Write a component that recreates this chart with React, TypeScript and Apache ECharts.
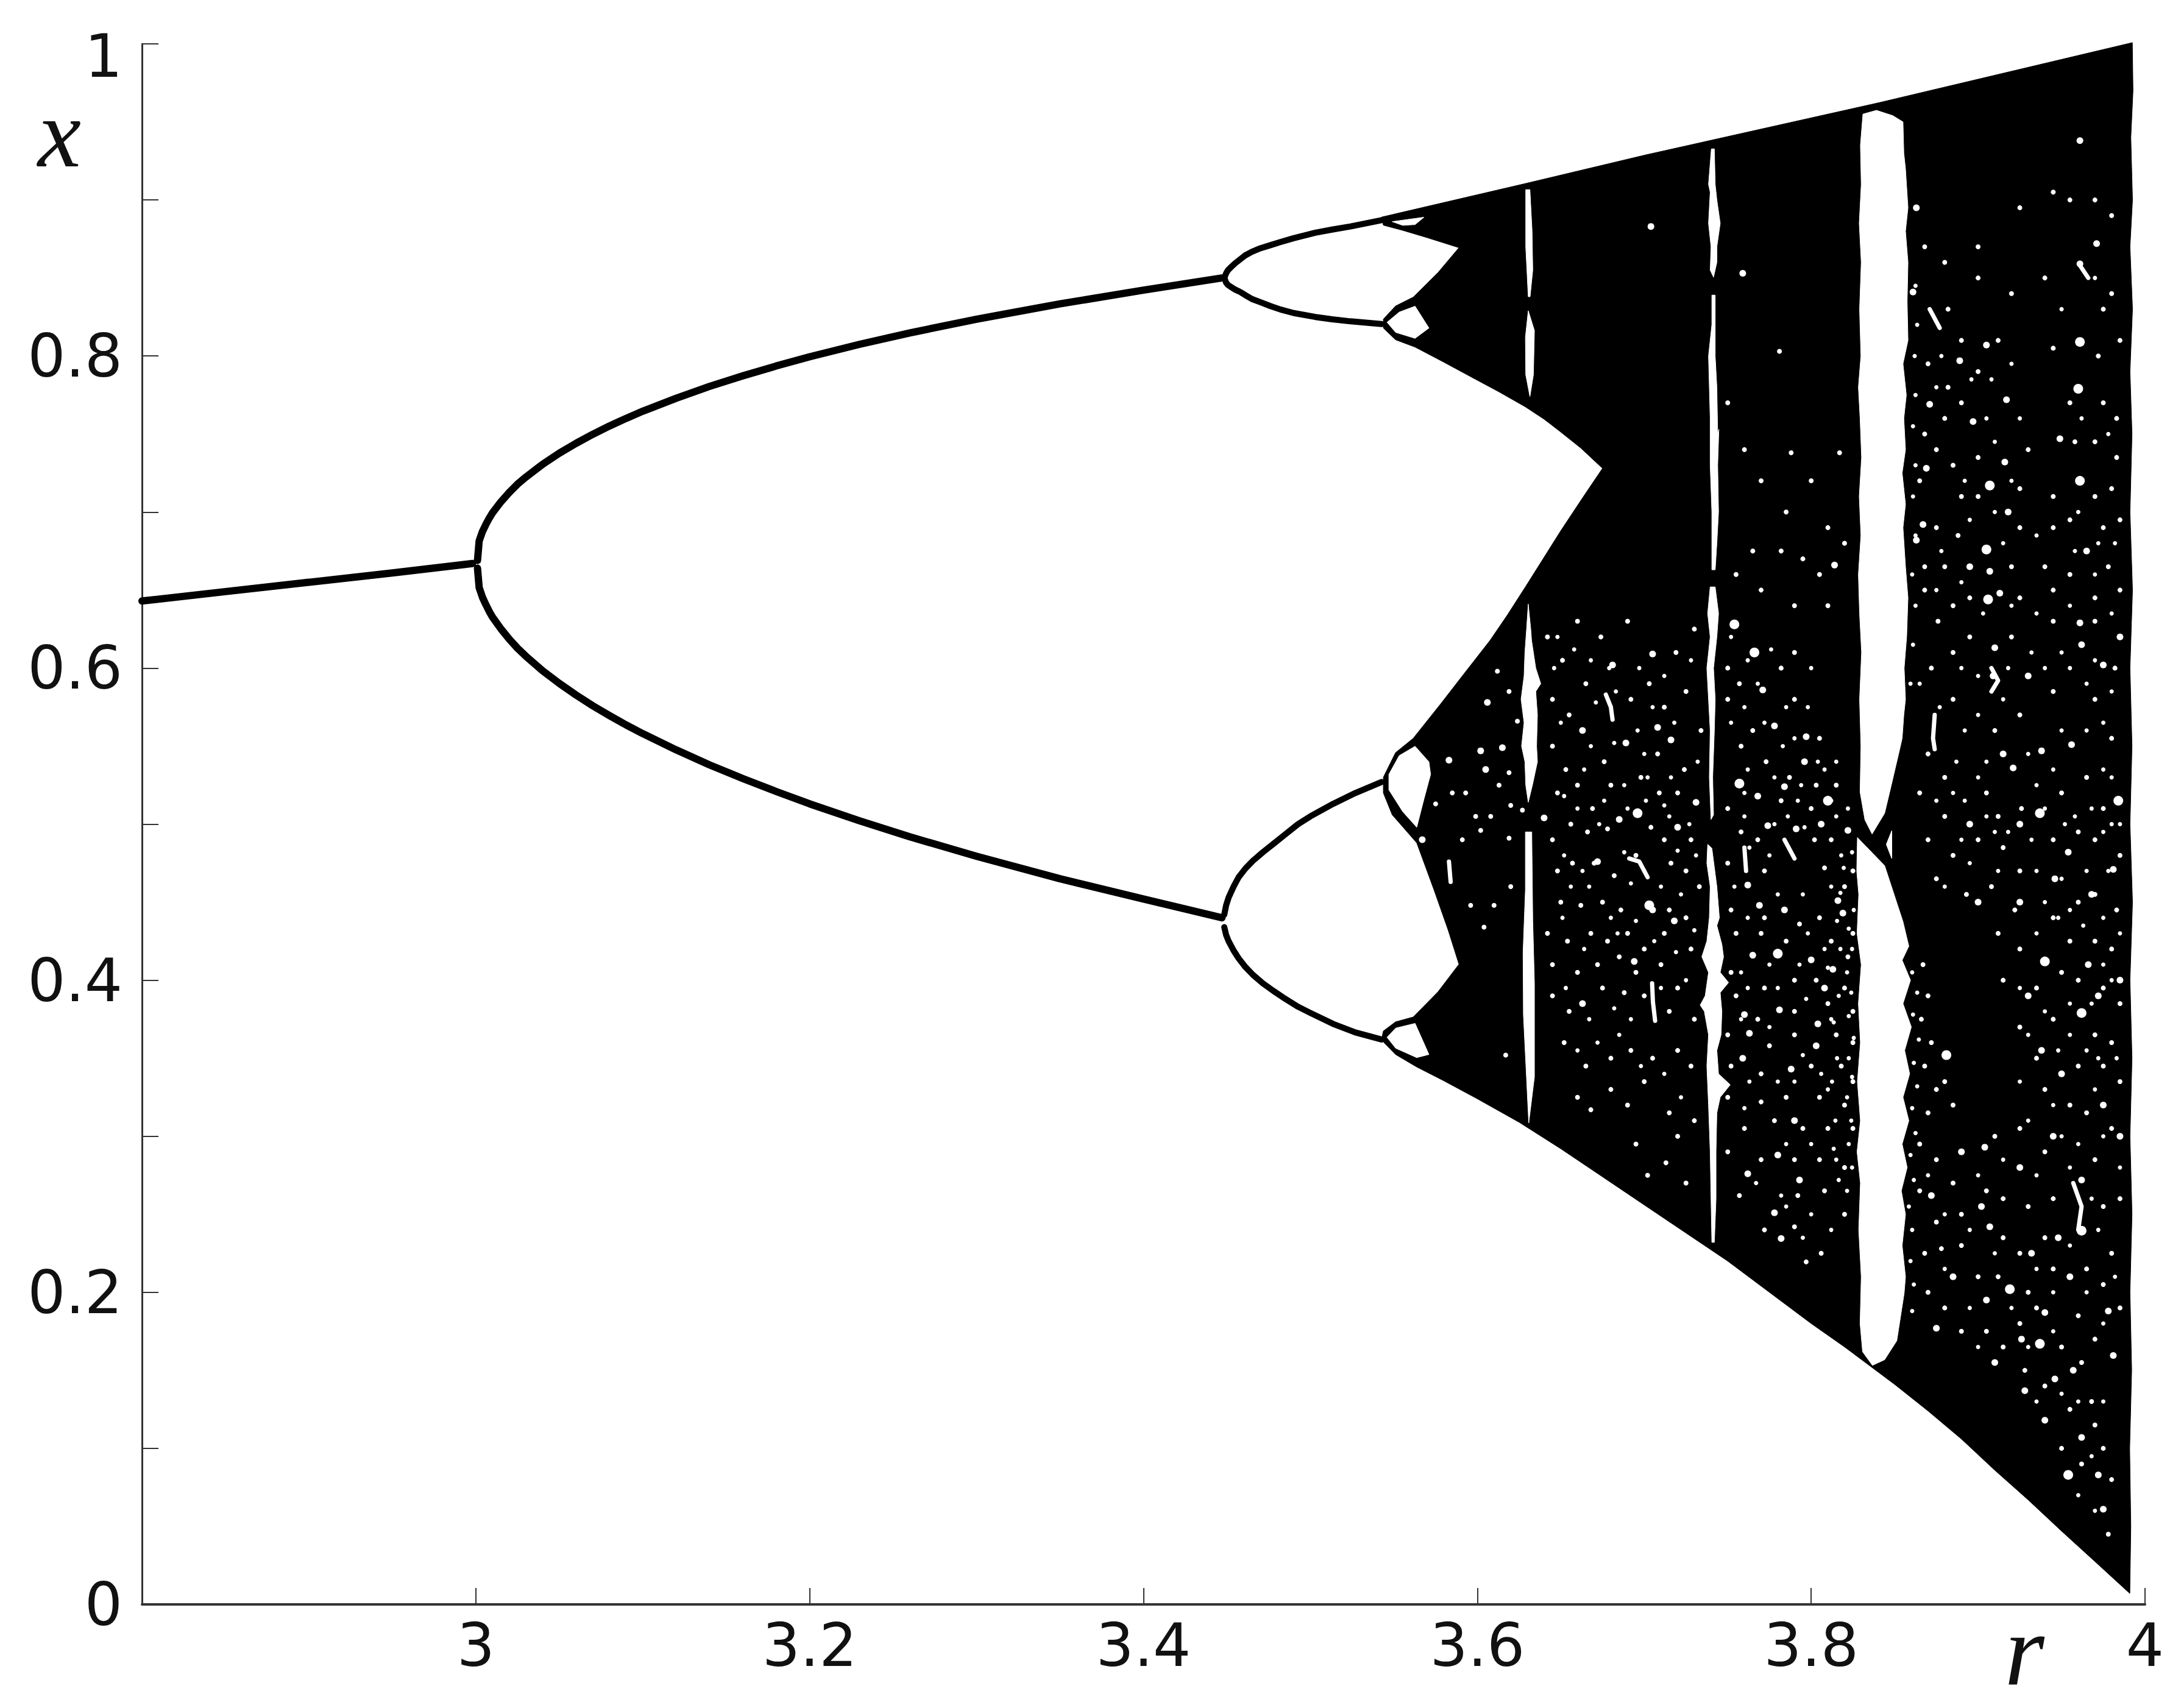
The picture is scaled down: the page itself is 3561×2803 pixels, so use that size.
import React, { useEffect, useRef } from "react";
import * as echarts from "echarts";

type P = [number, number];

const rTicks = [2.8, 3, 3.2, 3.4, 3.6, 3.8, 4];

const fixedPoint: P[] = [[2.8, 0.643], [2.85, 0.649], [2.9, 0.655], [2.95, 0.661], [2.998, 0.667]];
const upperFork: P[] = [[3.001, 0.669], [3.002, 0.6815], [3.004, 0.6876], [3.006, 0.692], [3.008, 0.696], [3.01, 0.6995], [3.015, 0.7065], [3.02, 0.7125], [3.025, 0.7179], [3.03, 0.7224], [3.04, 0.7306], [3.05, 0.7377], [3.06, 0.744], [3.07, 0.7498], [3.08, 0.7551], [3.09, 0.76], [3.1, 0.7646], [3.12, 0.7729], [3.14, 0.7805], [3.16, 0.7873], [3.18, 0.7936], [3.2, 0.7995], [3.23, 0.8075], [3.26, 0.8148], [3.3, 0.8236], [3.35, 0.8334], [3.4, 0.8422], [3.447, 0.85]];
const lowerFork: P[] = [[3.001, 0.664], [3.002, 0.6516], [3.004, 0.6453], [3.006, 0.6407], [3.008, 0.6364], [3.01, 0.6327], [3.015, 0.6252], [3.02, 0.6186], [3.025, 0.6127], [3.03, 0.6076], [3.04, 0.5983], [3.05, 0.5902], [3.06, 0.5828], [3.07, 0.5759], [3.08, 0.5696], [3.09, 0.5636], [3.1, 0.558], [3.12, 0.5476], [3.14, 0.538], [3.16, 0.5292], [3.18, 0.5209], [3.2, 0.513], [3.23, 0.5021], [3.26, 0.4919], [3.3, 0.4794], [3.35, 0.465], [3.4, 0.452], [3.447, 0.44]];
const branchA: P[] = [[3.4484, 0.85], [3.4495, 0.853], [3.4506, 0.855], [3.453, 0.8575], [3.455, 0.8595], [3.458, 0.862], [3.461, 0.8645], [3.465, 0.8668], [3.47, 0.869], [3.476, 0.871], [3.482, 0.873], [3.49, 0.8755], [3.503, 0.879], [3.513, 0.881], [3.524, 0.883], [3.5426, 0.887]];
const branchB: P[] = [[3.4484, 0.85], [3.4495, 0.847], [3.4506, 0.8455], [3.453, 0.8438], [3.455, 0.8425], [3.458, 0.841], [3.461, 0.839], [3.465, 0.8365], [3.47, 0.8345], [3.476, 0.832], [3.482, 0.8298], [3.49, 0.8275], [3.503, 0.825], [3.513, 0.8235], [3.524, 0.8222], [3.5426, 0.8205]];
const branchC: P[] = [[3.4484, 0.442], [3.4495, 0.448], [3.451, 0.453], [3.454, 0.46], [3.457, 0.466], [3.461, 0.4715], [3.4655, 0.4765], [3.4715, 0.482], [3.478, 0.4875], [3.485, 0.4935], [3.4926, 0.5], [3.5, 0.505], [3.5136, 0.513], [3.527, 0.52], [3.5426, 0.527]];
const branchD: P[] = [[3.4484, 0.434], [3.4495, 0.429], [3.451, 0.425], [3.454, 0.419], [3.457, 0.414], [3.461, 0.4085], [3.4655, 0.4035], [3.4715, 0.398], [3.478, 0.393], [3.485, 0.388], [3.4926, 0.383], [3.5, 0.379], [3.5136, 0.372], [3.527, 0.3665], [3.5426, 0.362]];

const chaosBand: P[] = [
  [3.5426, 0.889], [3.6288, 0.9105], [3.7007, 0.9288], [3.841, 0.9624], [3.9924, 1.0008],
  [3.9928, 0.97], [3.9915, 0.94], [3.9925, 0.9], [3.991, 0.87], [3.9925, 0.83], [3.991, 0.79], [3.9922, 0.75], [3.991, 0.7], [3.9925, 0.65], [3.991, 0.6], [3.9922, 0.55], [3.991, 0.5], [3.9925, 0.45], [3.991, 0.4], [3.9922, 0.35], [3.991, 0.3], [3.9922, 0.25], [3.991, 0.2], [3.992, 0.15], [3.9908, 0.1], [3.9915, 0.05],
  [3.9909, 0.007], [3.97, 0.0275], [3.95, 0.047], [3.93, 0.067], [3.91, 0.086], [3.89, 0.106], [3.87, 0.124], [3.85, 0.141], [3.82, 0.165], [3.8, 0.18], [3.775, 0.2], [3.75, 0.22], [3.725, 0.238], [3.7, 0.256], [3.675, 0.274], [3.65, 0.292], [3.625, 0.309], [3.6, 0.324], [3.58, 0.3355], [3.5637, 0.3444], [3.551, 0.3524], [3.5437, 0.3604], [3.5426, 0.362],
  [3.5437, 0.3674], [3.551, 0.3733], [3.5616, 0.3764], [3.5764, 0.3925], [3.589, 0.4102], [3.5825, 0.4322], [3.574, 0.458], [3.5637, 0.488], [3.549, 0.506], [3.5437, 0.52], [3.5437, 0.53], [3.551, 0.5458], [3.5616, 0.555],
  [3.578, 0.577], [3.593, 0.5977], [3.6076, 0.6177], [3.618, 0.634], [3.6288, 0.652], [3.64, 0.671], [3.65, 0.688], [3.663, 0.709], [3.675, 0.728],
  [3.662, 0.741], [3.6497, 0.7515], [3.64, 0.7595], [3.6288, 0.7674], [3.613, 0.777], [3.5973, 0.786], [3.58, 0.796], [3.5627, 0.8057], [3.551, 0.8104], [3.5437, 0.8179], [3.5437, 0.8236], [3.551, 0.832], [3.5616, 0.8377], [3.5764, 0.8534], [3.589, 0.8694], [3.57, 0.8758], [3.5553, 0.8805], [3.5437, 0.8838],
];

const holeA: P[] = [[3.549, 0.8861], [3.568, 0.8889], [3.5627, 0.8842], [3.5553, 0.8837]];
const holeB: P[] = [[3.5627, 0.8319], [3.571, 0.8179], [3.5627, 0.8113], [3.5511, 0.8151], [3.5459, 0.8216], [3.5532, 0.8281]];
const holeC: P[] = [[3.5627, 0.5499], [3.571, 0.5399], [3.572, 0.5319], [3.568, 0.516], [3.5637, 0.498], [3.5553, 0.508], [3.547, 0.522], [3.547, 0.5319], [3.5532, 0.5439]];
const holeD: P[] = [[3.5627, 0.3723], [3.571, 0.3524], [3.5637, 0.3504], [3.5511, 0.3564], [3.5459, 0.3634], [3.5511, 0.3693]];

const window363a: P[] = [[3.629, 0.9066], [3.6315, 0.9066], [3.6328, 0.88], [3.6332, 0.855], [3.6316, 0.838], [3.6305, 0.838], [3.629, 0.87]];
const window363b: P[] = [[3.6305, 0.829], [3.6342, 0.8163], [3.6336, 0.788], [3.6315, 0.774], [3.629, 0.788], [3.6288, 0.812]];
const window363c: P[] = [[3.6305, 0.641], [3.632, 0.625], [3.6325, 0.6177], [3.635, 0.6], [3.638, 0.59], [3.635, 0.585], [3.636, 0.57], [3.6355, 0.55], [3.636, 0.54], [3.633, 0.525], [3.6305, 0.514], [3.629, 0.525], [3.6285, 0.54], [3.6265, 0.55], [3.628, 0.565], [3.6262, 0.58], [3.628, 0.595], [3.6285, 0.61], [3.6295, 0.625]];
const window363d: P[] = [[3.6288, 0.495], [3.6326, 0.495], [3.6332, 0.438], [3.6342, 0.398], [3.6342, 0.338], [3.6308, 0.3085], [3.6276, 0.378], [3.6274, 0.418], [3.6288, 0.458]];

const window374a: P[] = [[3.7402, 0.9327], [3.742, 0.9327], [3.7425, 0.91], [3.7435, 0.9], [3.7455, 0.885], [3.7435, 0.87], [3.7435, 0.86], [3.7415, 0.8505], [3.7395, 0.855], [3.74, 0.87], [3.7385, 0.885], [3.7395, 0.905], [3.7385, 0.91]];
const window374b: P[] = [[3.7405, 0.839], [3.7425, 0.839], [3.7425, 0.8], [3.7435, 0.78], [3.744, 0.75], [3.7447, 0.753], [3.744, 0.73], [3.7445, 0.7], [3.7435, 0.68], [3.7425, 0.663], [3.7405, 0.663], [3.7405, 0.7], [3.7395, 0.73], [3.7395, 0.76], [3.7385, 0.8], [3.7405, 0.82]];
const window374c: P[] = [[3.7395, 0.652], [3.7425, 0.652], [3.7445, 0.635], [3.7435, 0.62], [3.7415, 0.6], [3.7425, 0.58], [3.742, 0.56], [3.741, 0.53], [3.7415, 0.506], [3.74, 0.503], [3.739, 0.53], [3.7395, 0.56], [3.7375, 0.6], [3.7395, 0.62], [3.738, 0.635]];
const window374d: P[] = [[3.738, 0.487], [3.7405, 0.4846], [3.7435, 0.46], [3.745, 0.44], [3.7435, 0.435], [3.7465, 0.423], [3.7475, 0.415], [3.7455, 0.405], [3.7505, 0.3985], [3.7455, 0.392], [3.7465, 0.38], [3.746, 0.365], [3.7435, 0.355], [3.7445, 0.34], [3.7515, 0.333], [3.7455, 0.325], [3.7435, 0.315], [3.743, 0.29], [3.743, 0.26], [3.742, 0.232], [3.7405, 0.232], [3.74, 0.26], [3.7395, 0.29], [3.7385, 0.32], [3.7375, 0.345], [3.7385, 0.365], [3.736, 0.38], [3.7335, 0.384], [3.7365, 0.39], [3.7385, 0.405], [3.7345, 0.415], [3.7375, 0.425], [3.739, 0.44], [3.7395, 0.46], [3.7375, 0.475]];

const window384a: P[] = [[3.831, 0.955], [3.8391, 0.9574], [3.8489, 0.954], [3.855, 0.95], [3.8555, 0.93], [3.8565, 0.92], [3.858, 0.895], [3.8565, 0.88], [3.858, 0.86], [3.8575, 0.835], [3.858, 0.81], [3.855, 0.795], [3.857, 0.775], [3.8555, 0.76], [3.8565, 0.74], [3.8545, 0.725], [3.8565, 0.705], [3.855, 0.69], [3.8565, 0.665], [3.858, 0.645], [3.8572, 0.62], [3.8557, 0.6], [3.8565, 0.58], [3.8555, 0.57], [3.8545, 0.555], [3.8528, 0.547], [3.848, 0.525], [3.844, 0.507], [3.8365, 0.4937], [3.8322, 0.5027], [3.8293, 0.5205], [3.8298, 0.55], [3.829, 0.58], [3.8302, 0.61], [3.829, 0.635], [3.8283, 0.66], [3.8298, 0.685], [3.8288, 0.71], [3.8302, 0.735], [3.8293, 0.76], [3.8283, 0.78], [3.8298, 0.8], [3.829, 0.83], [3.83, 0.86], [3.8288, 0.885], [3.83, 0.91], [3.8295, 0.935]];
const window384b: P[] = [[3.845, 0.487], [3.8483, 0.4958], [3.8483, 0.478]];
const window384c: P[] = [[3.8277, 0.4914], [3.844, 0.4734], [3.855, 0.4375], [3.8585, 0.4218], [3.8545, 0.4128], [3.8595, 0.4], [3.855, 0.385], [3.86, 0.37], [3.856, 0.355], [3.859, 0.34], [3.855, 0.325], [3.8585, 0.31], [3.8545, 0.295], [3.8575, 0.28], [3.854, 0.265], [3.8565, 0.25], [3.8545, 0.23], [3.8565, 0.21], [3.8557, 0.1994], [3.8513, 0.169], [3.844, 0.1568], [3.8367, 0.1532], [3.8308, 0.1619], [3.8293, 0.18], [3.83, 0.21], [3.8285, 0.24], [3.8295, 0.27], [3.8275, 0.29], [3.8295, 0.31], [3.8277, 0.335], [3.8295, 0.36], [3.8283, 0.385], [3.83, 0.41], [3.8275, 0.43], [3.8285, 0.455], [3.8273, 0.47]];

const streakPaths: P[][] = [
  [[3.677, 0.583], [3.68, 0.575], [3.681, 0.567]],
  [[3.7047, 0.398], [3.7052, 0.386], [3.7065, 0.374]],
  [[3.583, 0.476], [3.584, 0.463]],
  [[3.691, 0.478], [3.697, 0.476], [3.702, 0.466]],
  [[3.874, 0.57], [3.873, 0.555], [3.874, 0.548]],
  [[3.76, 0.485], [3.761, 0.47]],
  [[3.784, 0.49], [3.79, 0.478]],
  [[3.871, 0.83], [3.877, 0.818]],
  [[3.961, 0.858], [3.966, 0.85]],
  [[3.908, 0.6], [3.912, 0.592], [3.908, 0.585]],
  [[3.957, 0.27], [3.962, 0.255], [3.96, 0.24]],
];

const speckLarge: P[] = [
  [3.696, 0.507], [3.703, 0.448], [3.74, 0.416], [3.78, 0.417], [3.757, 0.526], [3.961, 0.809], [3.96, 0.779], [3.94, 0.412], [3.937, 0.507], [3.937, 0.167], [3.962, 0.379], [3.919, 0.202], [3.962, 0.2395], [3.881, 0.352], [3.984, 0.515], [3.907, 0.717], [3.961, 0.72], [3.905, 0.676], [3.906, 0.644], [3.754, 0.628], [3.766, 0.61], [3.81, 0.515], [3.954, 0.083],
];

const speckMedium: P[] = [
  [3.606, 0.578], [3.583, 0.541], [3.602, 0.547], [3.615, 0.549], [3.605, 0.535], [3.567, 0.49], [3.681, 0.602], [3.705, 0.609], [3.663, 0.56], [3.689, 0.552], [3.716, 0.554], [3.731, 0.514], [3.64, 0.504], [3.685, 0.503], [3.72, 0.498], [3.771, 0.586], [3.778, 0.563], [3.797, 0.556], [3.796, 0.54], [3.768, 0.518], [3.774, 0.499], [3.791, 0.497], [3.822, 0.496], [3.705, 0.445], [3.762, 0.461], [3.816, 0.451], [3.784, 0.445], [3.819, 0.443], [3.8, 0.413], [3.813, 0.407], [3.765, 0.416], [3.76, 0.378], [3.804, 0.372], [3.781, 0.381], [3.763, 0.366], [3.803, 0.358], [3.759, 0.35], [3.788, 0.343], [3.91, 0.613], [3.909, 0.595], [3.962, 0.615], [3.975, 0.602], [3.938, 0.547], [3.956, 0.551], [3.921, 0.536], [3.954, 0.482], [3.981, 0.471], [3.93, 0.595], [3.93, 0.39], [3.78, 0.288], [3.762, 0.276], [3.778, 0.251], [3.782, 0.2345], [3.904, 0.293], [3.872, 0.262], [3.907, 0.242], [3.875, 0.177], [3.962, 0.272], [3.94, 0.187], [3.928, 0.137], [3.946, 0.1445], [3.94, 0.118], [3.962, 0.107], [3.972, 0.083], [3.975, 0.061], [3.981, 0.1595], [3.978, 0.188], [3.863, 0.895], [3.704, 0.883], [3.961, 0.938], [3.971, 0.872], [3.961, 0.859], [3.861, 0.841], [3.905, 0.807], [3.889, 0.797], [3.871, 0.769], [3.917, 0.772], [3.897, 0.758], [3.949, 0.747], [3.869, 0.728], [3.916, 0.732], [3.918, 0.7], [3.867, 0.692], [3.863, 0.682], [3.965, 0.675], [3.895, 0.665], [3.907, 0.662], [3.913, 0.648], [3.961, 0.629], [3.814, 0.666], [3.759, 0.853],
  [3.966, 0.41], [3.895, 0.5], [3.9, 0.45], [3.95, 0.34], [3.975, 0.32], [3.925, 0.28], [3.955, 0.21], [3.885, 0.21], [3.91, 0.155], [3.905, 0.195], [3.957, 0.15], [3.985, 0.3], [3.985, 0.4], [3.985, 0.62], [3.925, 0.45], [3.945, 0.3], [3.89, 0.29],
  [3.708, 0.562], [3.672, 0.476], [3.694, 0.412], [3.663, 0.385], [3.718, 0.438], [3.784, 0.524], [3.806, 0.5], [3.769, 0.448], [3.808, 0.395], [3.79, 0.31], [3.793, 0.272], [3.915, 0.545], [3.946, 0.465], [3.925, 0.5], [3.968, 0.455], [3.938, 0.355], [3.972, 0.39], [3.902, 0.255], [3.932, 0.225], [3.926, 0.17], [3.948, 0.235],
];

const speckSmall: P[] = [
  [3.001, 0.666], [3.612, 0.598], [3.619, 0.585], [3.624, 0.566], [3.596, 0.448], [3.608, 0.505], [3.619, 0.491], [3.602, 0.496], [3.585, 0.52], [3.627, 0.509], [3.61, 0.448], [3.62, 0.46], [3.593, 0.52], [3.599, 0.505], [3.575, 0.513], [3.591, 0.49], [3.613, 0.525], [3.566, 0.53], [3.619, 0.533], [3.62, 0.512], [3.617, 0.352], [3.604, 0.434],
  [3.642, 0.62], [3.651, 0.605], [3.66, 0.63], [3.674, 0.62], [3.69, 0.63], [3.703, 0.59], [3.719, 0.61], [3.73, 0.625], [3.645, 0.58], [3.655, 0.57], [3.665, 0.59], [3.692, 0.58], [3.712, 0.575], [3.725, 0.585], [3.645, 0.55], [3.653, 0.535], [3.676, 0.54], [3.698, 0.53], [3.708, 0.545], [3.724, 0.535], [3.734, 0.56], [3.648, 0.52], [3.66, 0.525], [3.669, 0.51], [3.68, 0.525], [3.709, 0.52], [3.72, 0.52], [3.645, 0.49], [3.656, 0.5], [3.666, 0.495], [3.678, 0.497], [3.704, 0.498], [3.712, 0.49], [3.728, 0.49], [3.648, 0.47], [3.657, 0.475], [3.67, 0.475], [3.682, 0.467], [3.695, 0.48], [3.716, 0.475], [3.725, 0.47], [3.733, 0.46], [3.65, 0.45], [3.662, 0.448], [3.675, 0.45], [3.686, 0.445], [3.715, 0.445], [3.725, 0.44], [3.642, 0.43], [3.654, 0.425], [3.668, 0.43], [3.678, 0.425], [3.69, 0.43], [3.7, 0.42], [3.712, 0.43], [3.728, 0.42], [3.645, 0.41], [3.66, 0.405], [3.672, 0.41], [3.685, 0.415], [3.695, 0.405], [3.71, 0.41], [3.72, 0.395], [3.645, 0.39], [3.655, 0.38], [3.675, 0.395], [3.688, 0.392], [3.7, 0.39], [3.715, 0.38], [3.73, 0.375], [3.652, 0.36], [3.665, 0.345], [3.68, 0.35], [3.692, 0.355], [3.705, 0.35], [3.72, 0.355], [3.728, 0.345], [3.66, 0.325], [3.68, 0.33], [3.69, 0.32], [3.7, 0.335], [3.715, 0.315], [3.73, 0.31], [3.668, 0.317], [3.695, 0.295], [3.713, 0.283], [3.702, 0.275], [3.72, 0.3], [3.725, 0.27],
  [3.75, 0.6], [3.757, 0.59], [3.765, 0.56], [3.782, 0.6], [3.79, 0.58], [3.758, 0.55], [3.773, 0.54], [3.787, 0.53], [3.803, 0.525], [3.75, 0.51], [3.782, 0.515], [3.8, 0.51], [3.815, 0.525], [3.758, 0.495], [3.768, 0.49], [3.802, 0.49], [3.812, 0.49], [3.825, 0.47], [3.75, 0.475], [3.772, 0.47], [3.808, 0.472], [3.82, 0.46], [3.752, 0.445], [3.772, 0.44], [3.793, 0.436], [3.805, 0.44], [3.825, 0.43], [3.755, 0.43], [3.77, 0.43], [3.785, 0.425], [3.812, 0.425], [3.822, 0.415], [3.752, 0.405], [3.772, 0.395], [3.79, 0.4], [3.803, 0.4], [3.82, 0.395], [3.755, 0.39], [3.768, 0.375], [3.79, 0.38], [3.81, 0.385], [3.825, 0.38], [3.75, 0.365], [3.775, 0.358], [3.79, 0.365], [3.815, 0.365], [3.825, 0.36], [3.752, 0.345], [3.77, 0.34], [3.8, 0.345], [3.818, 0.345], [3.825, 0.335], [3.75, 0.325], [3.77, 0.322], [3.785, 0.325], [3.805, 0.325], [3.82, 0.32], [3.76, 0.305], [3.778, 0.31], [3.795, 0.305], [3.81, 0.305], [3.825, 0.305], [3.75, 0.29], [3.77, 0.285], [3.79, 0.285], [3.805, 0.285], [3.82, 0.28], [3.757, 0.262], [3.792, 0.262], [3.808, 0.265], [3.82, 0.25], [3.797, 0.2195], [3.79, 0.242], [3.772, 0.24], [3.806, 0.225], [3.75, 0.58], [3.79, 0.61], [3.805, 0.555],
  [3.781, 0.803], [3.817, 0.738], [3.788, 0.738], [3.75, 0.77], [3.76, 0.74], [3.77, 0.72], [3.785, 0.7], [3.8, 0.72], [3.81, 0.69], [3.765, 0.675], [3.782, 0.675], [3.795, 0.67], [3.805, 0.66], [3.77, 0.65], [3.755, 0.66], [3.79, 0.64], [3.81, 0.64], [3.82, 0.68],
  [3.868, 0.65], [3.876, 0.63], [3.885, 0.61], [3.872, 0.6], [3.885, 0.58], [3.895, 0.62], [3.92, 0.62], [3.945, 0.63], [3.97, 0.63], [3.982, 0.6], [3.87, 0.545], [3.88, 0.53], [3.91, 0.56], [3.925, 0.57], [3.945, 0.585], [3.97, 0.58], [3.98, 0.555], [3.865, 0.52], [3.88, 0.505], [3.905, 0.52], [3.912, 0.505], [3.926, 0.51], [3.95, 0.52], [3.965, 0.53], [3.975, 0.51], [3.87, 0.49], [3.885, 0.48], [3.9, 0.49], [3.915, 0.485], [3.925, 0.47], [3.945, 0.49], [3.96, 0.495], [3.97, 0.49], [3.985, 0.48], [3.875, 0.465], [3.893, 0.455], [3.908, 0.46], [3.922, 0.445], [3.945, 0.44], [3.96, 0.45], [3.97, 0.455], [3.983, 0.445], [3.912, 0.43], [3.925, 0.42], [3.955, 0.425], [3.97, 0.425], [3.98, 0.42], [3.915, 0.4], [3.935, 0.395], [3.95, 0.405], [3.96, 0.4], [3.975, 0.395], [3.985, 0.385], [3.925, 0.37], [3.945, 0.375], [3.97, 0.365], [3.98, 0.36], [3.867, 0.41], [3.87, 0.39], [3.866, 0.375], [3.872, 0.36], [3.868, 0.345], [3.875, 0.33], [3.87, 0.315], [3.88, 0.335], [3.885, 0.32], [3.935, 0.35], [3.96, 0.345], [3.975, 0.345], [3.985, 0.335], [3.94, 0.33], [3.955, 0.32], [3.965, 0.315], [3.98, 0.305], [3.865, 0.295], [3.875, 0.285], [3.885, 0.27], [3.91, 0.3], [3.925, 0.305], [3.94, 0.29], [3.97, 0.285], [3.865, 0.265], [3.875, 0.245], [3.89, 0.25], [3.905, 0.265], [3.915, 0.26], [3.93, 0.255], [3.945, 0.26], [3.975, 0.255], [3.985, 0.26], [3.868, 0.225], [3.878, 0.228], [3.89, 0.23], [3.915, 0.235], [3.925, 0.225], [3.94, 0.235], [3.965, 0.215], [3.98, 0.225], [3.87, 0.2], [3.9, 0.21], [3.912, 0.21], [3.93, 0.2], [3.945, 0.215], [3.975, 0.205], [3.985, 0.19], [3.88, 0.19], [3.89, 0.175], [3.925, 0.18], [3.935, 0.19], [3.96, 0.185], [3.97, 0.17], [3.905, 0.175], [3.915, 0.165], [3.95, 0.165], [3.962, 0.155], [3.928, 0.15], [3.94, 0.14], [3.955, 0.125], [3.968, 0.13], [3.95, 0.1], [3.962, 0.09], [3.975, 0.1], [3.97, 0.115], [3.98, 0.08], [3.978, 0.045],
  [3.868, 0.87], [3.88, 0.86], [3.9, 0.87], [3.925, 0.895], [3.945, 0.905], [3.955, 0.9], [3.97, 0.9], [3.98, 0.89], [3.882, 0.83], [3.9, 0.85], [3.92, 0.84], [3.94, 0.85], [3.975, 0.83], [3.98, 0.84], [3.87, 0.795], [3.882, 0.78], [3.89, 0.81], [3.912, 0.81], [3.945, 0.805], [3.972, 0.8], [3.985, 0.81], [3.868, 0.75], [3.88, 0.76], [3.89, 0.77], [3.9, 0.79], [3.955, 0.77], [3.975, 0.77], [3.983, 0.76], [3.875, 0.74], [3.885, 0.73], [3.9, 0.735], [3.93, 0.74], [3.958, 0.745], [3.97, 0.745], [3.983, 0.735], [3.865, 0.72], [3.89, 0.71], [3.9, 0.71], [3.925, 0.715], [3.945, 0.71], [3.97, 0.71], [3.98, 0.715], [3.875, 0.69], [3.888, 0.685], [3.925, 0.69], [3.945, 0.69], [3.955, 0.695], [3.975, 0.69], [3.985, 0.695], [3.868, 0.665], [3.88, 0.665], [3.92, 0.665], [3.94, 0.665], [3.955, 0.66], [3.978, 0.665], [3.985, 0.65], [3.885, 0.64], [3.895, 0.645], [3.925, 0.645], [3.945, 0.65], [3.97, 0.645],
];

const speckEdges: P[] = [
  [3.8625, 0.845], [3.8635, 0.82], [3.862, 0.8], [3.8625, 0.775], [3.861, 0.755], [3.8625, 0.73], [3.861, 0.71], [3.8625, 0.685], [3.8605, 0.66], [3.8625, 0.64], [3.861, 0.615], [3.8595, 0.59], [3.8605, 0.405], [3.8635, 0.392], [3.861, 0.378], [3.8645, 0.362], [3.8615, 0.347], [3.8635, 0.332], [3.8605, 0.318], [3.8625, 0.302], [3.8595, 0.288], [3.8615, 0.272], [3.8585, 0.255], [3.8605, 0.24], [3.8595, 0.22], [3.8615, 0.205], [3.8605, 0.188],
  [3.8255, 0.445], [3.8225, 0.433], [3.8245, 0.42], [3.8215, 0.405], [3.824, 0.392], [3.8225, 0.377], [3.8255, 0.363], [3.8225, 0.35], [3.8245, 0.338], [3.8215, 0.325], [3.824, 0.31], [3.8225, 0.295], [3.8245, 0.28], [3.8215, 0.265], [3.8245, 0.482], [3.8195, 0.472], [3.8175, 0.456], [3.8155, 0.438], [3.8175, 0.42], [3.8165, 0.39], [3.8135, 0.373], [3.8155, 0.35], [3.8125, 0.335], [3.8145, 0.31], [3.8135, 0.292], [3.8165, 0.272],
  [3.648, 0.62], [3.668, 0.605], [3.683, 0.585], [3.697, 0.6], [3.712, 0.595], [3.652, 0.518], [3.664, 0.535], [3.673, 0.5], [3.69, 0.51], [3.701, 0.515], [3.715, 0.505], [3.727, 0.5], [3.656, 0.46], [3.667, 0.46], [3.68, 0.44], [3.692, 0.462], [3.7, 0.47], [3.71, 0.46], [3.722, 0.455], [3.651, 0.44], [3.664, 0.42], [3.684, 0.43], [3.695, 0.438], [3.706, 0.425], [3.719, 0.418], [3.73, 0.432], [3.653, 0.395], [3.667, 0.375], [3.682, 0.382], [3.692, 0.375], [3.71, 0.395], [3.725, 0.4], [3.66, 0.355], [3.672, 0.36], [3.685, 0.365], [3.698, 0.345], [3.712, 0.34], [3.722, 0.325],
  [3.76, 0.575], [3.772, 0.565], [3.785, 0.575], [3.798, 0.575], [3.808, 0.535], [3.762, 0.535], [3.778, 0.53], [3.792, 0.515], [3.76, 0.505], [3.778, 0.5], [3.796, 0.498], [3.815, 0.505], [3.754, 0.46], [3.775, 0.48], [3.795, 0.455], [3.812, 0.46], [3.762, 0.44], [3.78, 0.455], [3.798, 0.43], [3.808, 0.42], [3.758, 0.405], [3.775, 0.41], [3.793, 0.41], [3.81, 0.408], [3.762, 0.395], [3.78, 0.395], [3.797, 0.388], [3.812, 0.375], [3.758, 0.375], [3.775, 0.37], [3.795, 0.352], [3.806, 0.34], [3.763, 0.335], [3.78, 0.335], [3.79, 0.335], [3.81, 0.33], [3.76, 0.318], [3.785, 0.295], [3.8, 0.295], [3.815, 0.285], [3.767, 0.27], [3.782, 0.262], [3.8, 0.25], [3.812, 0.24], [3.785, 0.255], [3.795, 0.235],
  [3.875, 0.515], [3.887, 0.54], [3.9, 0.57], [3.915, 0.58], [3.932, 0.61], [3.955, 0.6], [3.97, 0.605], [3.98, 0.585], [3.892, 0.515], [3.905, 0.505], [3.918, 0.495], [3.94, 0.51], [3.958, 0.505], [3.975, 0.535], [3.98, 0.5], [3.88, 0.46], [3.895, 0.475], [3.912, 0.47], [3.935, 0.47], [3.95, 0.465], [3.965, 0.47], [3.978, 0.47], [3.935, 0.43], [3.948, 0.44], [3.963, 0.435], [3.975, 0.44], [3.925, 0.395], [3.955, 0.385], [3.968, 0.385], [3.98, 0.4], [3.93, 0.365], [3.955, 0.365], [3.972, 0.35], [3.948, 0.355], [3.925, 0.335], [3.945, 0.32], [3.97, 0.33], [3.93, 0.31], [3.95, 0.3], [3.96, 0.295], [3.975, 0.3], [3.985, 0.28], [3.87, 0.275], [3.88, 0.25], [3.9, 0.275], [3.915, 0.285], [3.935, 0.275], [3.955, 0.28], [3.968, 0.26], [3.88, 0.215], [3.895, 0.24], [3.91, 0.225], [3.935, 0.215], [3.955, 0.23], [3.972, 0.24], [3.895, 0.19], [3.92, 0.19], [3.945, 0.2], [3.965, 0.2], [3.982, 0.21], [3.9, 0.165], [3.93, 0.165], [3.945, 0.175], [3.975, 0.18], [3.935, 0.13], [3.95, 0.135], [3.96, 0.13], [3.975, 0.13], [3.96, 0.07], [3.97, 0.06], [3.968, 0.095],
  [3.878, 0.8], [3.896, 0.785], [3.908, 0.785], [3.92, 0.795], [3.95, 0.83], [3.97, 0.85], [3.875, 0.78], [3.905, 0.76], [3.91, 0.745], [3.925, 0.76], [3.962, 0.76], [3.978, 0.75], [3.892, 0.72], [3.91, 0.7], [3.92, 0.72], [3.96, 0.7], [3.972, 0.68], [3.982, 0.68], [3.878, 0.675], [3.895, 0.695], [3.915, 0.68], [3.935, 0.685], [3.958, 0.675], [3.97, 0.66], [3.875, 0.65], [3.89, 0.655], [3.903, 0.635], [3.92, 0.64], [3.935, 0.635], [3.955, 0.64], [3.98, 0.635],
  [3.646, 0.6], [3.658, 0.612], [3.671, 0.578], [3.679, 0.6], [3.696, 0.56], [3.705, 0.575], [3.718, 0.565], [3.728, 0.605], [3.65, 0.565], [3.668, 0.55], [3.682, 0.552], [3.7, 0.545], [3.716, 0.53], [3.732, 0.54], [3.66, 0.51], [3.676, 0.515], [3.688, 0.525], [3.702, 0.53], [3.712, 0.512], [3.731, 0.48], [3.652, 0.48], [3.663, 0.47], [3.688, 0.482], [3.72, 0.483],
  [3.752, 0.62], [3.762, 0.605], [3.776, 0.612], [3.768, 0.59], [3.8, 0.6], [3.752, 0.565], [3.783, 0.55], [3.79, 0.555], [3.804, 0.54], [3.815, 0.54], [3.76, 0.52], [3.794, 0.525], [3.812, 0.515], [3.822, 0.51], [3.786, 0.505], [3.818, 0.48], [3.763, 0.485],
  [3.865, 0.59], [3.877, 0.575], [3.89, 0.6], [3.9, 0.595], [3.918, 0.6], [3.94, 0.6], [3.95, 0.61], [3.965, 0.59], [3.975, 0.565], [3.892, 0.56], [3.905, 0.54], [3.93, 0.545], [3.95, 0.56], [3.965, 0.56], [3.98, 0.53], [3.885, 0.52], [3.9, 0.53], [3.935, 0.525], [3.945, 0.535], [3.968, 0.51], [3.985, 0.5], [3.89, 0.49], [3.91, 0.495], [3.932, 0.49], [3.952, 0.5], [3.975, 0.495], [3.94, 0.45], [3.955, 0.445], [3.975, 0.41], [3.985, 0.43], [3.94, 0.38], [3.965, 0.355], [3.983, 0.35],
];

const whiteShapes: P[][] = [holeA, holeB, holeC, holeD, window363a, window363b, window363c, window363d, window374a, window374b, window374c, window374d, window384a, window384b, window384c];

const SERIF = "'Liberation Serif', serif";
const SANS = "'DejaVu Sans', sans-serif";

function polygons(name: string, shapes: P[][], fill: string) {
  return {
    type: "custom" as const,
    name,
    silent: true,
    clip: false,
    data: shapes.map((_, i) => [i]),
    renderItem: (params: any, api: any) => ({
      type: "polygon",
      shape: { points: shapes[params.dataIndex].map((p) => api.coord(p)) },
      style: { fill, stroke: fill, lineWidth: 1 },
    }),
  };
}

function branch(data: P[], width: number) {
  return {
    type: "line" as const,
    data,
    showSymbol: false,
    symbol: "none",
    silent: true,
    lineStyle: { color: "#000", width, join: "round", cap: "round" },
  };
}

function specks(data: P[], size: number) {
  return {
    type: "scatter" as const,
    data,
    symbol: "circle",
    symbolSize: size,
    silent: true,
    itemStyle: { color: "#fff", opacity: 1 },
  };
}

export default function App() {
  const ref = useRef<HTMLDivElement>(null);
  useEffect(() => {
    document.body.style.margin = "0";
    const chart = echarts.init(ref.current!, undefined, { renderer: "svg" });
    chart.setOption({
      animation: false,
      backgroundColor: "#fff",
      grid: { left: 233, right: 41, top: 72, bottom: 170, containLabel: false },
      xAxis: {
        type: "value",
        min: rTicks[0],
        max: rTicks[rTicks.length - 1],
        interval: 0.2,
        splitLine: { show: false },
        name: "r",
        nameLocation: "end",
        nameGap: -165,
        nameMoveOverlap: false,
        nameTextStyle: { fontFamily: SERIF, fontStyle: "italic", fontSize: 168, lineHeight: 150, color: "#111", align: "right", verticalAlign: "top" },
        axisLine: { show: true, onZero: false, lineStyle: { color: "#333", width: 4 } },
        axisTick: { show: true, inside: true, length: 27, lineStyle: { color: "#333", width: 2 } },
        axisLabel: { fontFamily: SANS, fontSize: 98, color: "#111", margin: 18, showMinLabel: false, formatter: (v: number) => (v === rTicks[0] ? "" : String(Math.round(v * 10) / 10)) },
      },
      yAxis: {
        type: "value",
        min: 0,
        max: 1,
        interval: 0.1,
        splitLine: { show: false },
        name: "x",
        nameLocation: "end",
        nameGap: -147,
        nameMoveOverlap: false,
        nameTextStyle: { fontFamily: SERIF, fontStyle: "italic", fontSize: 160, color: "#111", align: "right", verticalAlign: "middle", padding: [0, 100, 0, 0] },
        axisLine: { show: true, onZero: false, lineStyle: { color: "#333", width: 3 } },
        axisTick: { show: true, inside: true, length: 27, lineStyle: { color: "#333", width: 2 } },
        axisLabel: {
          fontFamily: SANS,
          fontSize: 98,
          color: "#111",
          margin: 32,
          hideOverlap: false,
          formatter: (v: number) => {
            const t = Math.round(v * 10);
            if (t === 10) return "{one|1}";
            return t % 2 === 0 ? String(t / 10) : "";
          },
          rich: { one: { fontFamily: SANS, fontSize: 98, color: "#111", padding: [40, 0, 0, 0] } },
        },
      },
      series: [
        branch(fixedPoint, 12),
        branch(upperFork, 12),
        branch(lowerFork, 12),
        branch(branchA, 10),
        branch(branchB, 10),
        branch(branchC, 10),
        branch(branchD, 10),
        polygons("chaos", [chaosBand], "#000"),
        polygons("windows", whiteShapes, "#fff"),
        specks(speckSmall, 8),
        specks(speckEdges, 7),
        specks(speckMedium, 11),
        specks(speckLarge, 16),
        {
          type: "custom" as const,
          silent: true,
          clip: false,
          data: streakPaths.map((_, i) => [i]),
          renderItem: (params: any, api: any) => ({
            type: "polyline",
            shape: { points: streakPaths[params.dataIndex].map((p) => api.coord(p)) },
            style: { fill: "none", stroke: "#fff", lineWidth: 7, lineCap: "round", lineJoin: "round" },
          }),
        },
      ],
    });
    return () => chart.dispose();
  }, []);
  return <div ref={ref} style={{ position: "absolute", left: 0, top: 0, width: 3561, height: 2803 }} />;
}
